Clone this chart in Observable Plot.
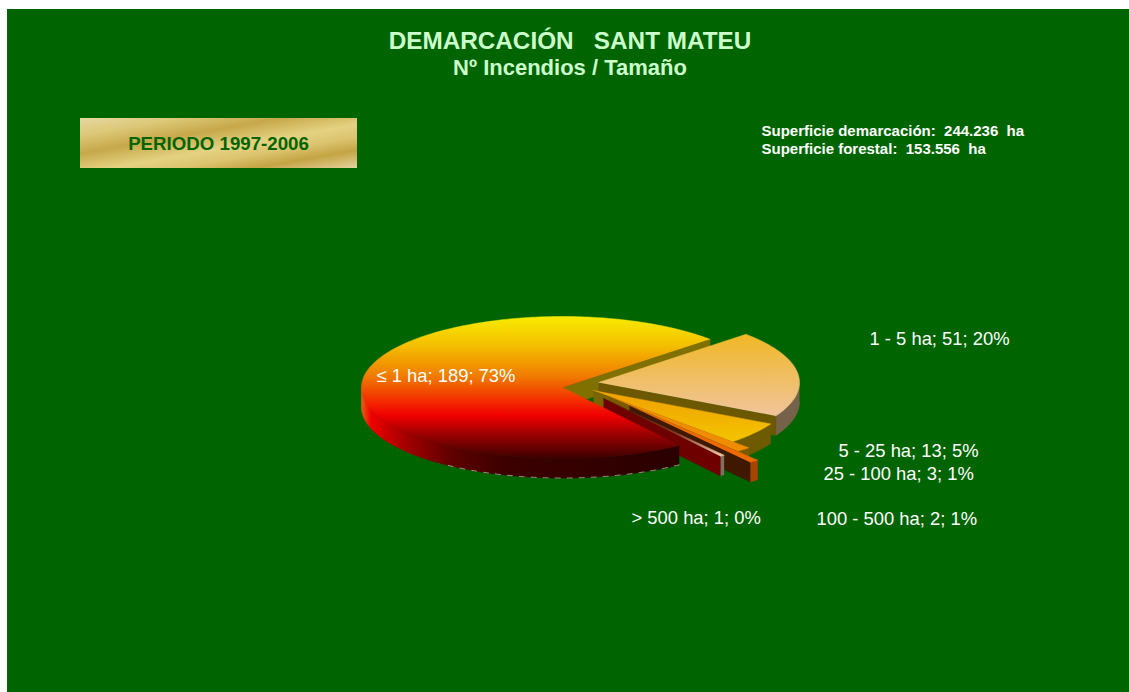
<!DOCTYPE html>
<html>
<head>
<meta charset="utf-8">
<script src="https://cdn.jsdelivr.net/npm/d3@7"></script>
<script src="https://cdn.jsdelivr.net/npm/@observablehq/plot@0.6"></script>
<style>
html,body{margin:0;padding:0;background:#fff;width:1129px;height:692px;overflow:hidden}
#panel{position:absolute;left:7px;top:9px;right:0;bottom:0;background:#006400}
#gold{position:absolute;left:80px;top:118px;width:277px;height:50px;
background:linear-gradient(170deg,#e6d8a0 0%,#dcc878 18%,#c6a84a 36%,#e4d282 56%,#dcc470 68%,#c4a444 82%,#dcc88a 96%,#e2d4a8 100%)}
#chart{position:absolute;left:0;top:0}
svg text{white-space:pre}
</style>
</head>
<body>
<div id="panel"></div>
<div id="gold"></div>
<div id="chart"></div>
<script>
const categories = ["≤ 1 ha", "1 - 5 ha", "5 - 25 ha", "25 - 100 ha", "100 - 500 ha", "> 500 ha"];
const fires = [189, 51, 13, 3, 2, 1];

// Exploded offset of each slice, in pie radii (right, up)
const explode = [[0,0],[0.179,0.07],[0.154,-0.042],[0.234,-0.127],[0.333,-0.254],[0.204,-0.155]];
const topFills = ["url(#bigTop)","url(#peachTop)","url(#yellowTop)","#f08c00","#ee6a00","url(#thinTop)"];
const arcFills = ["url(#bigWall)","#76624a","#6e5a00","#7a5c00","#a84400","#807060"];
const cutFills = ["#807000","#6b5800","#7a6400","#7a5a00","#3e1800","#6e0000"];
const labelSpots = [[376,376],[869,339],[838,451],[823,474],[816,519],[631,518]];

const startDeg = 144.5;
const depth = 0.275;
const rad = d => d * Math.PI / 180;
const total = d3.sum(fires);
const pie = d3.pie().sort(null).startAngle(rad(startDeg)).endAngle(rad(startDeg + 360));
const arcs = pie(fires);

const slices = arcs.map((a, i) => {
  const wrap = i === 0 ? 0 : 360;
  return {
    a0: a.startAngle * 180 / Math.PI - wrap,
    a1: a.endAngle * 180 / Math.PI - wrap,
    ox: explode[i][0],
    oy: explode[i][1]
  };
});

function rim(s, from, to, drop = 0) {
  const pts = [];
  const n = Math.max(2, Math.ceil(Math.abs(to - from)));
  for (let k = 0; k <= n; ++k) {
    const t = rad(from + (to - from) * k / n);
    pts.push({x: s.ox + Math.sin(t), y: s.oy + Math.cos(t) - drop});
  }
  return pts;
}
const apex = (s, drop = 0) => ({x: s.ox, y: s.oy - drop});
const topFace = s => [apex(s), ...rim(s, s.a0, s.a1)];
function cutFace(s, angle) {
  const end = rim(s, angle, angle)[0];
  return [apex(s), end, {x: end.x, y: end.y - depth}, apex(s, depth)];
}
function arcWall(s) {
  // only the front half of the rim (90° to 270° clockwise from north) can be seen
  const from = Math.max(s.a0, 90), to = Math.min(s.a1, 270);
  if (to <= from) return null;
  return [...rim(s, from, to), ...rim(s, to, from, depth)];
}
const poly = (pts, fill) => Plot.line(pts, {x: "x", y: "y", fill, stroke: fill, strokeWidth: 0.5, curve: "linear"});

function defs() {
  const host = d3.create("svg:g");
  const d = host.append("defs");
  const grad = (id, attrs, stops) => {
    const g = d.append("linearGradient").attr("id", id);
    Object.entries(attrs).forEach(([k, v]) => g.attr(k, v));
    stops.forEach(([o, c]) => g.append("stop").attr("offset", o).attr("stop-color", c));
  };
  const v = {x1: 0, y1: 0, x2: 0, y2: 1};
  const h = {x1: 0, y1: 0, x2: 1, y2: 0};
  grad("bigTop", v, [[0,"#f8ea00"],[0.2,"#f4c000"],[0.42,"#f07c00"],[0.62,"#f42000"],[0.7,"#ee0000"],[0.85,"#900000"],[1,"#3c0000"]]);
  grad("bigWall", h, [[0,"#e86010"],[0.03,"#f00000"],[0.13,"#a80000"],[0.28,"#600000"],[0.45,"#3c0000"],[1,"#2a0000"]]);
  grad("peachTop", v, [[0,"#f0b824"],[1,"#f0c49c"]]);
  grad("yellowTop", v, [[0,"#f0a000"],[1,"#f4c400"]]);
  grad("thinTop", h, [[0,"#501000"],[0.6,"#8a3a20"],[1,"#f0cca8"]]);
  return host.node();
}

const marks = [defs];
// back cut of the large slice, seen through the gap
marks.push(poly(cutFace(slices[0], slices[0].a1), cutFills[0]));
// exploded slices, back to front
for (let i = 1; i < slices.length; ++i) {
  const s = slices[i];
  const w = arcWall(s);
  if (w) marks.push(poly(w, arcFills[i]));
  marks.push(poly(cutFace(s, s.a1), cutFills[i]));
  marks.push(poly(topFace(s), topFills[i]));
}
// the large slice last: it covers the tips of the thin slices
marks.push(poly(arcWall(slices[0]), arcFills[0]));
marks.push(poly(topFace(slices[0]), topFills[0]));
// pale broken edge along the foot of the large slice
marks.push(Plot.line(rim(slices[0], slices[0].a0, 215, depth), {x: "x", y: "y", stroke: "#a08a8a", strokeWidth: 1, strokeDasharray: "5,7"}));

const sans = "Liberation Sans, Arial, sans-serif";
const label = (text, dx, dy, opts) => Plot.text([text], {
  text: d => d, frameAnchor: "top-left", dx, dy, lineAnchor: "middle",
  fontFamily: sans, ...opts
});

categories.forEach((c, i) => {
  const pct = Math.round(fires[i] / total * 100);
  marks.push(label(`${c}; ${fires[i]}; ${pct}%`, labelSpots[i][0], labelSpots[i][1],
    {textAnchor: "start", fill: "#fff", fontSize: 18.4}));
});
marks.push(label("DEMARCACIÓN   SANT MATEU", 569.5, 41, {textAnchor: "middle", fill: "#ccffcc", fontSize: 24.3, fontWeight: "bold"}));
marks.push(label("Nº Incendios / Tamaño", 569.5, 67, {textAnchor: "middle", fill: "#ccffcc", fontSize: 22, fontWeight: "bold"}));
marks.push(label("PERIODO 1997-2006", 218, 144, {textAnchor: "middle", fill: "#006400", fontSize: 18.7, fontWeight: "bold"}));
marks.push(label("Superficie demarcación:  244.236  ha", 761, 131, {textAnchor: "start", fill: "#fff", fontSize: 15, fontWeight: "bold"}));
marks.push(label("Superficie forestal:  153.556  ha", 761, 149, {textAnchor: "start", fill: "#fff", fontSize: 15, fontWeight: "bold"}));

const chart = Plot.plot({
  width: 1129, height: 692,
  margin: 0,
  style: {background: "transparent", overflow: "visible"},
  x: {domain: [-562 / 201, (1129 - 562) / 201], range: [0, 1129], axis: null},
  y: {domain: [387 / 71, (387 - 692) / 71], range: [0, 692], axis: null},
  marks
});
document.getElementById("chart").appendChild(chart);
</script>
</body>
</html>
